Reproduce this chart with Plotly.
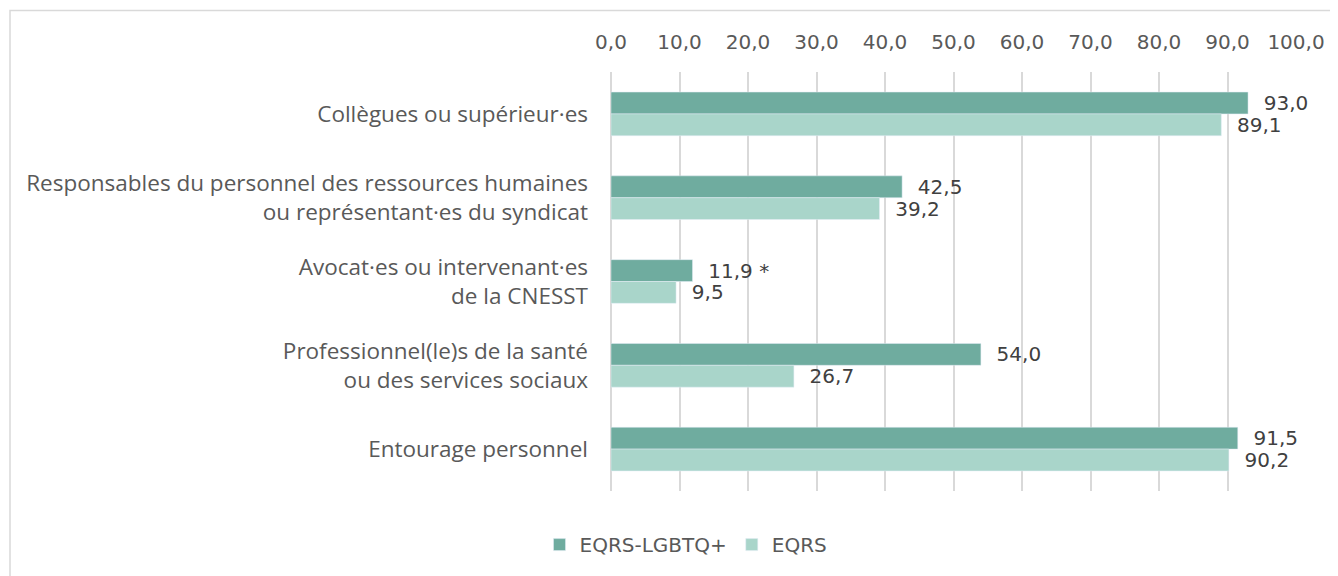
import plotly.graph_objects as go

categories = [
    "Collègues ou supérieur·es",
    "Responsables du personnel des ressources humaines<br>ou représentant·es du syndicat",
    "Avocat·es ou intervenant·es<br>de la CNESST",
    "Professionnel(le)s de la santé<br>ou des services sociaux",
    "Entourage personnel",
]
lgbtq_values = [93.0, 42.5, 11.9, 54.0, 91.5]
lgbtq_flags = ["", "", " *", "", ""]
eqrs_values = [89.1, 39.2, 9.5, 26.7, 90.2]
series_names = ["EQRS-LGBTQ+", "EQRS"]
tick_values = [0, 10, 20, 30, 40, 50, 60, 70, 80, 90, 100]

def fmt(v):
    return f"{v:.1f}".replace(".", ",")

PAD = "  "

# page body has an 8px default margin; compensate
OFF = 8
W, H = 1338 - OFF, 576 - OFF
PL, PT, PR, PB = 611, 72, 1296, 494  # plot area in page pixels
L, R, T, B = PL - OFF, 1338 - PR, PT - OFF, 576 - PB
pw, ph = PR - PL, PB - PT

NUM_FONT = dict(family="DejaVu Sans", size=20, color="#404040")

fig = go.Figure()
fig.add_trace(go.Bar(
    y=categories, x=lgbtq_values, orientation="h", name=series_names[0],
    marker=dict(color="#6FAC9F"),
    text=[PAD + fmt(v) + f for v, f in zip(lgbtq_values, lgbtq_flags)],
    textposition="outside", cliponaxis=False, constraintext="none",
    textfont=NUM_FONT,
))
fig.add_trace(go.Bar(
    y=categories, x=eqrs_values, orientation="h", name=series_names[1],
    marker=dict(color="#A9D5CA"),
    text=[PAD + fmt(v) for v in eqrs_values],
    textposition="outside", cliponaxis=False, constraintext="none",
    textfont=NUM_FONT,
))

fig.update_layout(
    width=W, height=H,
    margin=dict(l=L, r=R, t=T, b=B),
    paper_bgcolor="white", plot_bgcolor="white",
    barmode="group", bargap=0.479, bargroupgap=0,
    separators=", ",
    showlegend=True,
    legend=dict(orientation="h", x=(686 - PL) / pw, xanchor="center",
                y=-(548 - PB) / ph, yanchor="middle",
                font=dict(family="DejaVu Sans", size=20, color="#595959"),
                itemwidth=30, traceorder="normal"),
    xaxis=dict(side="top", range=[0, 100], tickvals=tick_values,
               ticktext=[fmt(v) for v in tick_values],
               showgrid=True, gridcolor="#D9D9D9", gridwidth=1.5,
               zeroline=True, zerolinecolor="#D9D9D9", zerolinewidth=1.5,
               showline=False, ticks="", ticklabelstandoff=18,
               tickfont=dict(family="DejaVu Sans", size=20, color="#595959")),
    yaxis=dict(autorange="reversed", showgrid=False, showline=False, ticks="",
               ticklabelstandoff=22,
               tickfont=dict(family="Open Sans", size=22.5, color="#595959")),
    shapes=[dict(type="rect", xref="paper", yref="paper", layer="below",
                 x0=(10 - PL) / pw, x1=(1338 + 5 - PL) / pw,
                 y0=-(576 - PB + 10) / ph, y1=1 + (PT - 10) / ph,
                 line=dict(color="#D9D9D9", width=1.5), fillcolor="rgba(0,0,0,0)")],
)

fig.write_html("out.html")
